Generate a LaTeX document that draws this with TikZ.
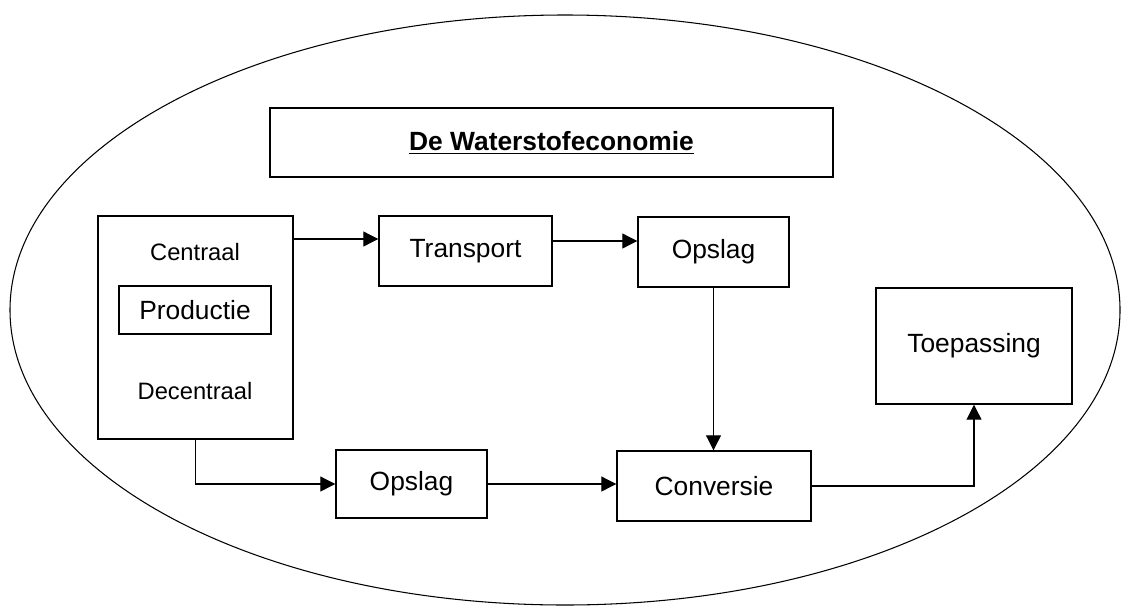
\documentclass[tikz,border=0pt]{standalone}
\usepackage{fontspec}
\setmainfont{Liberation Sans}
\usetikzlibrary{arrows.meta}

\begin{document}
\begin{tikzpicture}
    \tikzset{box/.style={draw, line width=0.8pt, font=\fontsize{15}{18}\selectfont},
             plain/.style={font=\fontsize{13.5}{16}\selectfont},
             arr/.style={-{Triangle[length=0.3cm,width=0.3cm]}, line width=0.6pt}}
    \useasboundingbox (0,0) rectangle (22.5,12.14);
    \draw[line width=0.6pt] (11.3,5.94) ellipse [x radius=11.1, y radius=5.9];
    \node[box, minimum width=11.26cm, minimum height=1.38cm] (title) at (11.03, 9.29)
        {\textbf{\underline{De Waterstofeconomie}}};
    \node[box, minimum width=3.9cm, minimum height=4.46cm] (prod) at (3.91, 5.59) {};
    \node[plain] (centraal)   at (3.9, 7.1)  {Centraal};
    \node[box, minimum width=3.04cm, minimum height=0.96cm] (productie) at (3.9, 5.94) {Productie};
    \node[plain] (decentraal) at (3.9, 4.32) {Decentraal};
    \node[box, minimum width=3.46cm, minimum height=1.4cm]  (transport)  at (9.31, 7.12)  {Transport};
    \node[box, minimum width=3.02cm, minimum height=1.4cm]  (opslagA)    at (14.27, 7.1)  {Opslag};
    \node[box, minimum width=3.92cm, minimum height=2.32cm] (toepassing) at (19.48, 5.22) {Toepassing};
    \node[box, minimum width=3.02cm, minimum height=1.36cm] (opslagB)    at (8.23, 2.46)  {Opslag};
    \node[box, minimum width=3.88cm, minimum height=1.4cm]  (conversie)  at (14.28, 2.42) {Conversie};
    \coordinate (t1) at ([yshift=0.24cm]transport.west);
    \coordinate (t2) at ([yshift=0.2cm]transport.east);
    \path[arr] (prod.east |- t1) edge (t1)
               (t2) edge (opslagA.west |- t2)
               (opslagA.south) edge (opslagA.south |- conversie.north)
               (opslagB.east) edge (conversie.west |- opslagB.east);
    \draw[arr] (prod.south) |- (opslagB.west);
    \draw[arr] (conversie.east) -| (toepassing.south);
\end{tikzpicture}
\end{document}
